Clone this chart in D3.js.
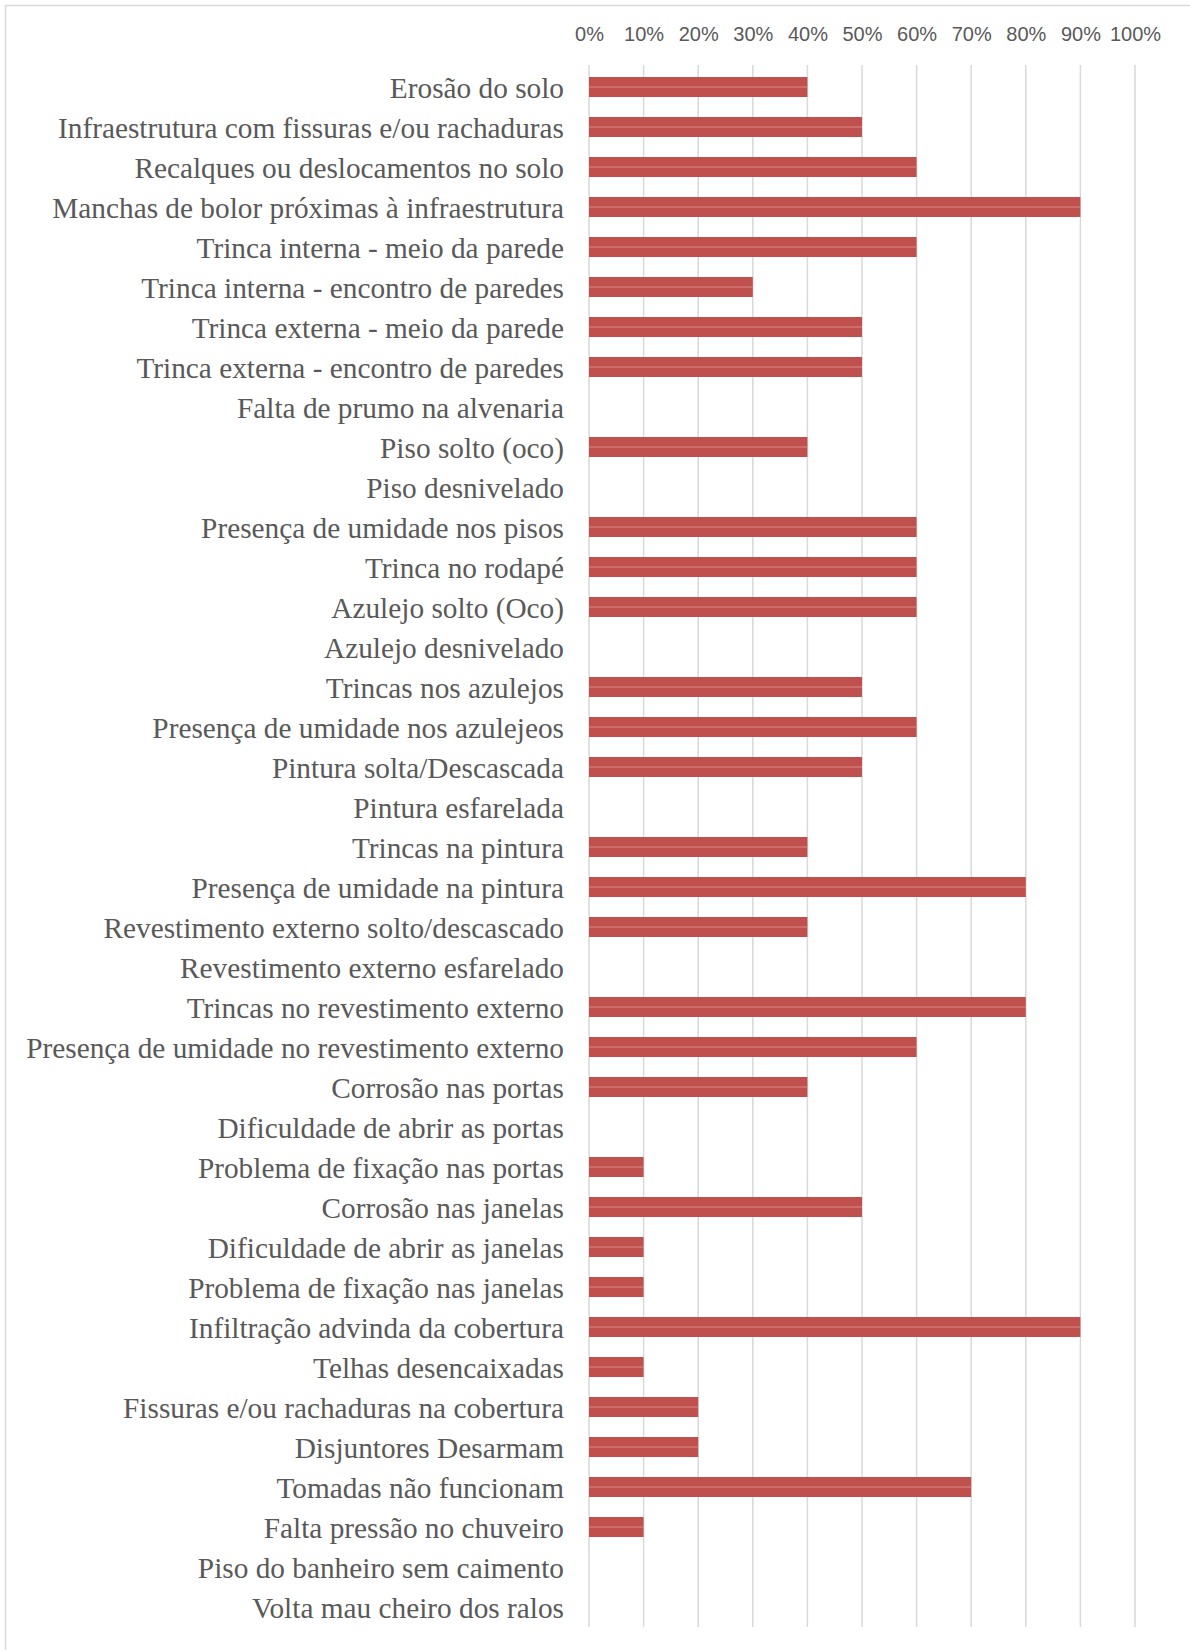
<!DOCTYPE html>
<html>
<head>
<meta charset="utf-8">
<script src="https://cdn.jsdelivr.net/npm/d3@7"></script>
<style>
  body { margin: 0; background: #fff; }
</style>
</head>
<body>
<div id="chart"></div>
<script>
// categories, top to bottom
var categories = [
    "Erosão do solo",
    "Infraestrutura com fissuras e/ou rachaduras",
    "Recalques ou deslocamentos no solo",
    "Manchas de bolor próximas à infraestrutura",
    "Trinca interna - meio da parede",
    "Trinca interna - encontro de paredes",
    "Trinca externa - meio da parede",
    "Trinca externa - encontro de paredes",
    "Falta de prumo na alvenaria",
    "Piso solto (oco)",
    "Piso desnivelado",
    "Presença de umidade nos pisos",
    "Trinca no rodapé",
    "Azulejo solto (Oco)",
    "Azulejo desnivelado",
    "Trincas nos azulejos",
    "Presença de umidade nos azulejeos",
    "Pintura solta/Descascada",
    "Pintura esfarelada",
    "Trincas na pintura",
    "Presença de umidade na pintura",
    "Revestimento externo solto/descascado",
    "Revestimento externo esfarelado",
    "Trincas no revestimento externo",
    "Presença de umidade no revestimento externo",
    "Corrosão nas portas",
    "Dificuldade de abrir as portas",
    "Problema de fixação nas portas",
    "Corrosão nas janelas",
    "Dificuldade de abrir as janelas",
    "Problema de fixação nas janelas",
    "Infiltração advinda da cobertura",
    "Telhas desencaixadas",
    "Fissuras e/ou rachaduras na cobertura",
    "Disjuntores Desarmam",
    "Tomadas não funcionam",
    "Falta pressão no chuveiro",
    "Piso do banheiro sem caimento",
    "Volta mau cheiro dos ralos"
];
// share of occurrences (0..1)
var values = [
    0.4, 0.5, 0.6, 0.9, 0.6, 0.3, 0.5, 0.5, 0, 0.4,
    0, 0.6, 0.6, 0.6, 0, 0.5, 0.6, 0.5, 0, 0.4,
    0.8, 0.4, 0, 0.8, 0.6, 0.4, 0, 0.1, 0.5, 0.1,
    0.1, 0.9, 0.1, 0.2, 0.2, 0.7, 0.1, 0, 0
];
var ticks = [0, 0.1, 0.2, 0.3, 0.4, 0.5, 0.6, 0.7, 0.8, 0.9, 1.0];

var data = categories.map(function (c, i) {
    return { name: c, value: values[i] };
});

var W = 1190, H = 1650;
var margin = { top: 67, left: 589 };
var plotW = 546, plotH = 39 * 40;

var svg = d3.select("#chart")
    .append("svg")
    .attr("width", W)
    .attr("height", H);

// outer chart frame (runs off right / bottom)
svg.append("rect")
    .attr("x", 5.5).attr("y", 5.5)
    .attr("width", 1300).attr("height", 1800)
    .attr("fill", "none")
    .attr("stroke", "#d9d9d9")
    .attr("stroke-width", 1.5);

var g = svg.append("g")
    .attr("transform", "translate(" + margin.left + "," + margin.top + ")");

var x = d3.scaleLinear().domain([0, 1]).range([0, plotW]);
var y = d3.scaleBand().domain(categories).range([0, plotH])
    .paddingInner(0.5).paddingOuter(0.25);

// grid lines
g.selectAll(".grid")
    .data(ticks)
    .enter()
    .append("line")
    .attr("x1", d => x(d)).attr("x2", d => x(d))
    .attr("y1", -2).attr("y2", plotH)
    .attr("stroke", "#d9d9d9")
    .attr("stroke-width", 1.5);

// top axis labels
var xAxis = g.append("g")
    .attr("transform", "translate(0,-23)")
    .call(d3.axisTop(x).tickValues(ticks).tickFormat(d3.format(".0%")).tickSize(0));
xAxis.select(".domain").remove();
xAxis.selectAll("text")
    .attr("fill", "#595959")
    .style("font-family", "'Liberation Sans', Arial, sans-serif")
    .style("font-size", "20px");

// category labels
var yAxis = g.append("g")
    .call(d3.axisLeft(y).tickSize(0).tickPadding(25));
yAxis.select(".domain").remove();
yAxis.selectAll("text")
    .attr("fill", "#595959")
    .attr("dy", "0.36em")
    .style("font-family", "'Liberation Serif', 'Times New Roman', serif")
    .style("font-size", "29.3px");

// bars
g.selectAll(".bar")
    .data(data)
    .enter()
    .append("rect")
    .attr("class", "bar")
    .attr("x", x(0))
    .attr("y", d => y(d.name))
    .attr("width", d => x(d.value) - x(0))
    .attr("height", y.bandwidth())
    .attr("fill", "#c0504d");

// faint highlight through the middle of each bar
g.selectAll(".hl")
    .data(data.filter(d => d.value > 0))
    .enter()
    .append("line")
    .attr("class", "hl")
    .attr("x1", x(0))
    .attr("x2", d => x(d.value))
    .attr("y1", d => y(d.name) + y.bandwidth() / 2)
    .attr("y2", d => y(d.name) + y.bandwidth() / 2)
    .attr("stroke", "#d98a87")
    .attr("stroke-width", 1);
</script>
</body>
</html>
